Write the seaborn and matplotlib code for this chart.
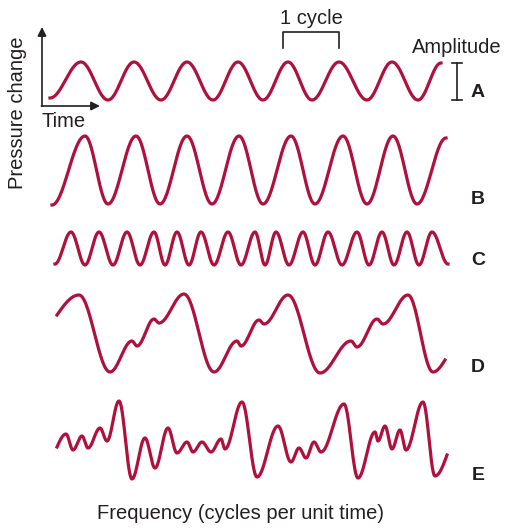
import matplotlib.pyplot as plt
import numpy as np
import pandas as pd
import seaborn as sns

# wave turning points: time (px along) and pressure (px above row centre)
a_time = [50, 81, 108, 134, 161, 187, 213, 238, 263, 288, 312, 339, 367, 392, 418, 441]
a_pressure = [-17, 19, -19, 19, -19, 19, -19, 19, -19, 19, -19, 19, -19, 19, -19, 18]

b_time = [52, 85, 108, 136, 160, 187, 212, 239, 263, 291, 315, 343, 367, 393, 417, 446]
b_pressure = [-35, 34, -34, 34, -34, 34, -34, 34, -34, 34, -34, 34, -34, 34, -34, 32]

c_time = [55, 71, 85, 99, 113, 127, 140, 154, 165, 177, 189, 201, 214, 228, 241, 255,
          265, 276, 289, 303, 315, 328, 342, 357, 369, 382, 394, 407, 419, 432, 448]
c_pressure = [-15.5] + [16.5, -16.5] * 14 + [16.5, -15.5]

d_time = [57, 79, 110, 132, 137, 154, 159, 184, 214, 237, 241, 259, 264, 288, 320,
          351, 357, 377, 383, 408, 433, 445]
d_pressure = [18.5, 38.5, -38.5, -7.5, -12.5, 14.5, 10.5, 39.5, -38.5, -7.5, -12.5,
              13.5, 9.5, 38.5, -39.5, -7.5, -13.5, 14.5, 9.5, 38.5, -38.5, -26.5]

e_time = [57, 66, 73, 82, 88, 100, 107, 119, 132, 145, 155, 168, 177, 187, 193, 202,
          211, 221, 225, 242, 257, 278, 291, 299, 306, 314, 321, 344, 358, 375, 378,
          385, 392, 400, 406, 423, 435, 447]
e_pressure = [-7, 6, -10, 4, -8, 12, -1, 39, -39, 2, -28, 12, -13, -2, -12, -2, -12, 1,
              -9, 38, -37, 14, -22, -8, -18, -2, -12, 36, -38, 8, -1, 14, -9, 10, -10,
              38, -36, -15]

waves = {
    "A": (a_time, a_pressure),
    "B": (b_time, b_pressure),
    "C": (c_time, c_pressure),
    "D": (d_time, d_pressure),
    "E": (e_time, e_pressure),
}

# layout: vertical centre of each row (px from top) and label baseline
row_centre = {"A": 81, "B": 170, "C": 248.5, "D": 333.5, "E": 440}
label_base = {"A": 97, "B": 204, "C": 265, "D": 372, "E": 480}
# rows whose ends are mid-slope rather than near a crest
open_ends = {"D", "E"}

wave_col = "#b0103c"
ink = "#231f20"


def smooth_wave(ts, ps, open_end, n=30):
    # draw smooth half-cosine strokes between turning points
    xs, ys = [], []
    last = len(ts) - 2
    for i in range(len(ts) - 1):
        t = np.linspace(0, 1, n, endpoint=False)
        if open_end and i == 0:
            w = np.sin(np.pi / 2 * t)
        elif open_end and i == last:
            w = 1 - np.cos(np.pi / 2 * t)
        else:
            w = (1 - np.cos(np.pi * t)) / 2
        xs.extend(ts[i] + (ts[i + 1] - ts[i]) * t)
        ys.extend(ps[i] + (ps[i + 1] - ps[i]) * w)
    xs.append(ts[-1])
    ys.append(ps[-1])
    return np.array(xs), np.array(ys)


frames = []
for name, (ts, ps) in waves.items():
    x, p = smooth_wave(ts, ps, name in open_ends)
    frames.append(pd.DataFrame({"x": x, "y": row_centre[name] - p, "wave": name}))
df = pd.concat(frames, ignore_index=True)

#%%
plt.rcParams["font.family"] = ["Liberation Sans", "DejaVu Sans"]

fig = plt.figure(figsize=(5.06, 5.28), dpi=100)
ax = fig.add_axes([0, 0, 1, 1])

sns.lineplot(data=df, x="x", y="y", hue="wave", palette={k: wave_col for k in waves},
             estimator=None, sort=False, lw=2.3, legend=False, ax=ax)

ax.set_xlim(0, 506)
ax.set_ylim(528, 0)
ax.axis("off")

# axes sketch
arrow = dict(arrowstyle="-|>", color=ink, lw=1.2, mutation_scale=13, shrinkA=0, shrinkB=0)
ax.annotate("", xy=(42, 27), xytext=(42, 106), arrowprops=arrow)
ax.annotate("", xy=(100, 106), xytext=(41.4, 106), arrowprops=arrow)
ax.text(42, 127, "Time", fontsize=14.5, color=ink, ha="left", va="baseline")
ax.text(18, 113, "Pressure change", fontsize=14.5, color=ink, rotation=90,
        ha="center", va="center")

# 1 cycle bracket
ax.plot([283, 283, 339, 339], [48, 32, 32, 48], color=ink, lw=1.2)
ax.text(311, 24, "1 cycle", fontsize=14.5, color=ink, ha="center", va="baseline")

# amplitude marker
ax.text(457, 53, "Amplitude", fontsize=14.5, color=ink, ha="center", va="baseline")
ax.plot([457, 457], [63, 100], color=ink, lw=1.2)
ax.plot([452, 462], [63, 63], color=ink, lw=1.2)
ax.plot([452, 462], [100, 100], color=ink, lw=1.2)

for name in waves:
    ax.text(478, label_base[name], name, fontsize=14, fontweight="bold", color=ink,
            ha="center", va="baseline")

ax.text(241, 519, "Frequency (cycles per unit time)", fontsize=14.5, color=ink,
        ha="center", va="baseline")

fig.savefig("out.png", dpi=100)
